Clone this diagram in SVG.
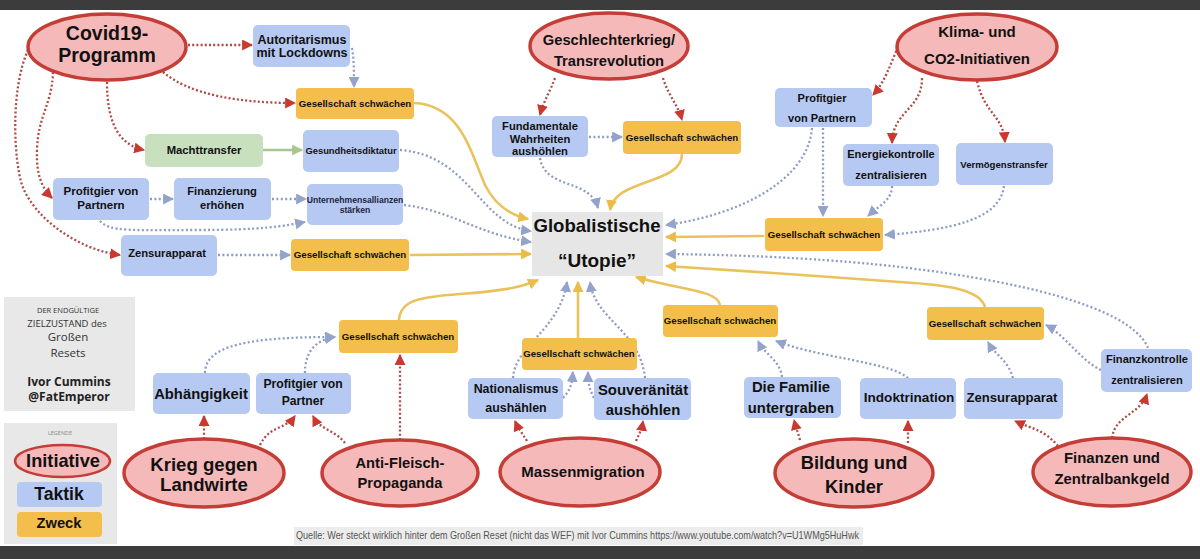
<svg xmlns="http://www.w3.org/2000/svg" width="1200" height="559" viewBox="0 0 1200 559">
<defs>
<style>
.t{font-family:"Liberation Sans",Arial,sans-serif;font-weight:bold;fill:#111;text-anchor:middle}
.o{font-family:"Open Sans","Liberation Sans",sans-serif;fill:#333;text-anchor:middle}
.ell{fill:#f6b9b9;stroke:#c43d36;stroke-width:3.5}
.tk{fill:#b6c9f2}
.zw{fill:#f3be4c}
.r{fill:none;stroke:#b04a44;stroke-width:2.3;stroke-dasharray:2 2.2}
.b{fill:none;stroke:#8c9cc2;stroke-width:2.3;stroke-dasharray:2 2.4}
.y{fill:none;stroke:#eac25c;stroke-width:2.6}
.g{fill:none;stroke:#a9c592;stroke-width:2.6}
</style>
<marker id="mr" viewBox="0 0 10 10" refX="9" refY="5" markerWidth="11" markerHeight="11" markerUnits="userSpaceOnUse" orient="auto"><path d="M0,0 L10,5 L0,10 z" fill="#c9392f"/></marker>
<marker id="mb" viewBox="0 0 10 10" refX="9" refY="5" markerWidth="11" markerHeight="11" markerUnits="userSpaceOnUse" orient="auto"><path d="M0,0 L10,5 L0,10 z" fill="#93a3cc"/></marker>
<marker id="my" viewBox="0 0 10 10" refX="9" refY="5" markerWidth="11" markerHeight="11" markerUnits="userSpaceOnUse" orient="auto"><path d="M0,0 L10,5 L0,10 z" fill="#eabc4a"/></marker>
<marker id="mg" viewBox="0 0 10 10" refX="9" refY="5" markerWidth="11" markerHeight="11" markerUnits="userSpaceOnUse" orient="auto"><path d="M0,0 L10,5 L0,10 z" fill="#a9c592"/></marker>
</defs>
<rect x="0" y="0" width="1200" height="559" fill="#ffffff"/>
<rect x="0" y="0" width="1200" height="10" fill="#3c3c3c"/>
<rect x="0" y="546" width="1200" height="13" fill="#3c3c3c"/>

<g id="connectors">
<g marker-end="url(#mr)">
<path class="r" d="M188,45 L252,45"/>
<path class="r" d="M163,72 C190,95 240,103 295,103"/>
<path class="r" d="M107,82 C107,125 120,145 144,150"/>
<path class="r" d="M53,72 C52,105 38,115 37,150 C36,175 42,188 52,198"/>
<path class="r" d="M28,50 C10,90 14,160 22,185 C35,220 80,250 120,255"/>
<path class="r" d="M555,78 C550,92 544,100 540,115"/>
<path class="r" d="M663,78 C668,95 678,105 682,120"/>
<path class="r" d="M898,47 C890,65 885,82 873,95"/>
<path class="r" d="M922,78 C922,110 893,110 892,143"/>
<path class="r" d="M977,81 C985,115 1003,115 1005,142"/>
<path class="r" d="M1112,438 C1115,415 1140,415 1147,394"/>
<path class="r" d="M1058,446 C1045,430 1030,428 1015,421"/>
<path class="r" d="M800,440 C798,432 796,428 794,420"/>
<path class="r" d="M908,443 L908,421"/>
<path class="r" d="M527,441 C522,433 518,428 515,421"/>
<path class="r" d="M636,441 C640,433 642,428 643,421"/>
<path class="r" d="M400,440 L400,355"/>
<path class="r" d="M345,443 C335,430 320,430 313,416"/>
<path class="r" d="M260,445 C270,425 285,430 295,416"/>
<path class="r" d="M204,439 L204,416"/>
</g>
<g marker-end="url(#mb)">
<path class="b" d="M352,48 C354,60 354,70 354,87"/>
<path class="b" d="M400,150 C470,155 480,225 531,231"/>
<path class="b" d="M150,199 L173,199"/>
<path class="b" d="M272,199 L306,199"/>
<path class="b" d="M100,221 C110,232 130,230 200,230 C260,230 285,226 305,222"/>
<path class="b" d="M404,205 C450,210 480,235 531,242"/>
<path class="b" d="M218,255 L290,255"/>
<path class="b" d="M589,137 L622,137"/>
<path class="b" d="M540,158 C545,190 590,178 598,208"/>
<path class="b" d="M823,128 L823,216"/>
<path class="b" d="M812,128 C808,180 740,215 666,225"/>
<path class="b" d="M892,186 C892,200 880,205 868,216"/>
<path class="b" d="M1004,186 C1000,220 950,230 885,235"/>
<path class="b" d="M1148,348 C1130,305 1010,280 900,267 C840,260 760,255 666,254"/>
<path class="b" d="M1101,370 C1080,360 1065,335 1046,325"/>
<path class="b" d="M1013,378 C1008,360 995,355 988,342"/>
<path class="b" d="M782,377 C780,360 765,355 758,341"/>
<path class="b" d="M908,378 C890,362 820,358 776,341"/>
<path class="b" d="M563,398 C570,390 572,385 573,372"/>
<path class="b" d="M594,398 C590,390 588,385 588,372"/>
<path class="b" d="M513,378 C515,345 560,330 567,282"/>
<path class="b" d="M645,378 C640,330 595,320 590,282"/>
<path class="b" d="M205,373 C205,345 250,337 335,337"/>
<path class="b" d="M305,373 C305,352 315,340 335,337"/>
</g>
<g marker-end="url(#my)">
<path class="y" d="M414,103 C460,105 470,150 485,185 C495,205 510,215 528,219"/>
<path class="y" d="M410,255 L531,254"/>
<path class="y" d="M682,154 C682,185 615,178 610,210"/>
<path class="y" d="M764,236 L666,237"/>
<path class="y" d="M985,307 C980,290 950,285 900,282 C850,278 700,268 666,266"/>
<path class="y" d="M720,305 C718,290 680,290 636,277"/>
<path class="y" d="M578,338 L578,282"/>
<path class="y" d="M399,320 C400,300 420,297 460,294 C500,291 520,288 538,280"/>
</g>
<path class="g" d="M263,150 L302,150" marker-end="url(#mg)"/>
</g>

<g id="covid"><ellipse class="ell" cx="107" cy="47" rx="79" ry="33"/><text class="t" x="107" y="40" font-size="19.5">Covid19-</text><text class="t" x="107" y="62" font-size="19.5">Programm</text></g>
<g id="geschlecht"><ellipse class="ell" cx="609" cy="46" rx="79" ry="33"/><text class="t" x="609" y="45" font-size="14.7">Geschlechterkrieg/</text><text class="t" x="609" y="66" font-size="14.7">Transrevolution</text></g>
<g id="klima"><ellipse class="ell" cx="977" cy="47" rx="80" ry="33"/><text class="t" x="977" y="37" font-size="15">Klima- und</text><text class="t" x="977" y="64" font-size="15">CO2-Initiativen</text></g>
<g id="krieg"><ellipse class="ell" cx="204" cy="473" rx="80" ry="34"/><text class="t" x="204" y="471" font-size="18.6">Krieg gegen</text><text class="t" x="204" y="491" font-size="18.6">Landwirte</text></g>
<g id="antifleisch"><ellipse class="ell" cx="400" cy="473" rx="78" ry="33"/><text class="t" x="400" y="468" font-size="14.7">Anti-Fleisch-</text><text class="t" x="400" y="488" font-size="14.7">Propaganda</text></g>
<g id="massenmigration"><ellipse class="ell" cx="580" cy="472" rx="80" ry="34"/><text class="t" x="583" y="477" font-size="15">Massenmigration</text></g>
<g id="bildung"><ellipse class="ell" cx="854" cy="473" rx="79" ry="34"/><text class="t" x="854" y="469" font-size="18.3">Bildung und</text><text class="t" x="854" y="493" font-size="18.3">Kinder</text></g>
<g id="finanzen"><ellipse class="ell" cx="1112" cy="472" rx="79" ry="34"/><text class="t" x="1112" y="463" font-size="14.9">Finanzen und</text><text class="t" x="1112" y="484" font-size="14.9">Zentralbankgeld</text></g>

<g id="utopie"><rect x="532" y="212" width="131" height="64" fill="#e6e6e6"/><text class="t" x="597" y="232" font-size="18.6">Globalistische</text><text class="t" x="597" y="267" font-size="19">“Utopie”</text></g>

<g id="autoritarismus"><rect class="tk" x="253" y="25" width="97" height="42" rx="5"/><text class="t" x="302" y="44" font-size="12.5">Autoritarismus</text><text class="t" x="302" y="57" font-size="12.5">mit Lockdowns</text></g>
<g id="gs1"><rect class="zw" x="296" y="88" width="118" height="31" rx="4"/><text class="t" x="355" y="107" font-size="9.7">Gesellschaft schwächen</text></g>
<g id="machttransfer"><rect x="145" y="134" width="118" height="33" rx="5" fill="#c9e0bf"/><text class="t" x="204" y="154" font-size="11.3">Machttransfer</text></g>
<g id="gesundheitsdiktatur"><rect class="tk" x="303" y="130" width="96" height="42" rx="5"/><text class="t" x="351" y="154" font-size="9.4">Gesundheitsdiktatur</text></g>
<g id="profitgier1"><rect class="tk" x="53" y="178" width="96" height="42" rx="5"/><text class="t" x="101" y="195" font-size="11.5">Profitgier von</text><text class="t" x="101" y="209" font-size="11.5">Partnern</text></g>
<g id="finanzierung"><rect class="tk" x="174" y="178" width="97" height="42" rx="5"/><text class="t" x="222" y="195" font-size="11.2">Finanzierung</text><text class="t" x="222" y="209" font-size="11.2">erhöhen</text></g>
<g id="unternehmen"><rect class="tk" x="307" y="184" width="96" height="41" rx="5"/><text class="t" x="355" y="203" font-size="8.6" style="fill:#1d2540">Unternehmensallianzen</text><text class="t" x="355" y="213" font-size="8.6" style="fill:#1d2540">stärken</text></g>
<g id="zensur1"><rect class="tk" x="121" y="235" width="96" height="41" rx="5"/><text class="t" x="167" y="257" font-size="11.2">Zensurapparat</text></g>
<g id="gs2"><rect class="zw" x="291" y="239" width="118" height="32" rx="4"/><text class="t" x="350" y="258" font-size="9.7">Gesellschaft schwächen</text></g>
<g id="fundamentale"><rect class="tk" x="492" y="116" width="96" height="41" rx="5"/><text class="t" x="540" y="130" font-size="11.2">Fundamentale</text><text class="t" x="540" y="143" font-size="11.2">Wahrheiten</text><text class="t" x="540" y="155" font-size="11.2">aushöhlen</text></g>
<g id="gs3"><rect class="zw" x="623" y="121" width="118" height="33" rx="4"/><text class="t" x="682" y="141" font-size="9.7">Gesellschaft schwächen</text></g>
<g id="profitgier2"><rect class="tk" x="775" y="88" width="97" height="39" rx="5"/><text class="t" x="822" y="102" font-size="11">Profitgier</text><text class="t" x="822" y="122" font-size="11">von Partnern</text></g>
<g id="energie"><rect class="tk" x="843" y="144" width="96" height="42" rx="5"/><text class="t" x="891" y="158" font-size="11.1">Energiekontrolle</text><text class="t" x="891" y="179" font-size="11.1">zentralisieren</text></g>
<g id="vermoegen"><rect class="tk" x="956" y="143" width="97" height="42" rx="5"/><text class="t" x="1004" y="168" font-size="9.6">Vermögenstransfer</text></g>
<g id="gs4"><rect class="zw" x="765" y="218" width="118" height="33" rx="4"/><text class="t" x="824" y="238" font-size="9.7">Gesellschaft schwächen</text></g>
<g id="gs5"><rect class="zw" x="927" y="307" width="117" height="33" rx="4"/><text class="t" x="985" y="327" font-size="9.7">Gesellschaft schwächen</text></g>
<g id="finanzkontrolle"><rect class="tk" x="1101" y="349" width="91" height="43" rx="5"/><text class="t" x="1147" y="363" font-size="11.1">Finanzkontrolle</text><text class="t" x="1147" y="384" font-size="11.1">zentralisieren</text></g>
<g id="gs6"><rect class="zw" x="663" y="305" width="115" height="32" rx="4"/><text class="t" x="720" y="324" font-size="9.7">Gesellschaft schwächen</text></g>
<g id="gs7"><rect class="zw" x="522" y="338" width="115" height="32" rx="4"/><text class="t" x="579" y="357" font-size="9.6">Gesellschaft schwächen</text></g>
<g id="gs8"><rect class="zw" x="339" y="320" width="119" height="33" rx="4"/><text class="t" x="398" y="340" font-size="9.7">Gesellschaft schwächen</text></g>
<g id="abhaengigkeit"><rect class="tk" x="153" y="373" width="97" height="41" rx="5"/><text class="t" x="201" y="399" font-size="14.8">Abhängigkeit</text></g>
<g id="profitgier3"><rect class="tk" x="256" y="373" width="95" height="41" rx="5"/><text class="t" x="303" y="388" font-size="12.2">Profitgier von</text><text class="t" x="303" y="405" font-size="12.2">Partner</text></g>
<g id="nationalismus"><rect class="tk" x="468" y="378" width="95" height="41" rx="5"/><text class="t" x="516" y="393" font-size="12.4">Nationalismus</text><text class="t" x="516" y="412" font-size="12.4">aushählen</text></g>
<g id="souveraenitaet"><rect class="tk" x="594" y="378" width="97" height="42" rx="5"/><text class="t" x="643" y="395" font-size="14.9">Souveränität</text><text class="t" x="643" y="415" font-size="14.9">aushöhlen</text></g>
<g id="familie"><rect class="tk" x="744" y="377" width="97" height="41" rx="5"/><text class="t" x="791" y="392" font-size="14.8">Die Familie</text><text class="t" x="791" y="413" font-size="14.8">untergraben</text></g>
<g id="indoktrination"><rect class="tk" x="860" y="378" width="96" height="41" rx="5"/><text class="t" x="909" y="402" font-size="13.6">Indoktrination</text></g>
<g id="zensur2"><rect class="tk" x="964" y="378" width="99" height="41" rx="5"/><text class="t" x="1012" y="402" font-size="13.1">Zensurapparat</text></g>

<g id="info">
<rect x="4" y="297" width="131" height="114" fill="#e8e8e8"/>
<text class="o" x="68" y="313" font-size="7.5">DER ENDGÜLTIGE</text>
<text class="o" x="67" y="327" font-size="9.5">ZIELZUSTAND des</text>
<text class="o" x="68" y="341" font-size="11.5">Großen</text>
<text class="o" x="68" y="357" font-size="11.5">Resets</text>
<text class="o" x="69" y="386" font-size="12" font-weight="bold" style="fill:#222">Ivor Cummins</text>
<text class="o" x="69" y="401" font-size="12" font-weight="bold" style="fill:#222">@FatEmperor</text>
</g>
<g id="legend">
<rect x="4" y="423" width="113" height="121" fill="#e8e8e8"/>
<text class="o" x="60" y="435" font-size="5.5" style="fill:#888">LEGENDE</text>
<ellipse cx="62.5" cy="461" rx="47.5" ry="16" fill="#f6b9b9" stroke="#c43d36" stroke-width="2.5"/>
<text class="t" x="63" y="467" font-size="18.2">Initiative</text>
<rect class="tk" x="17" y="482" width="85" height="25" rx="4"/>
<text class="t" x="59" y="500" font-size="17.6">Taktik</text>
<rect class="zw" x="17" y="512" width="85" height="25" rx="4"/>
<text class="t" x="59" y="528" font-size="14.7">Zweck</text>
</g>
<g id="source">
<rect x="294" y="527" width="569" height="18" fill="#ececec"/>
<text x="296" y="539" font-family="Liberation Sans Narrow,Liberation Sans,Arial,sans-serif" font-size="11" fill="#555" textLength="563" lengthAdjust="spacingAndGlyphs">Quelle: Wer steckt wirklich hinter dem Großen Reset (nicht das WEF) mit Ivor Cummins https://www.youtube.com/watch?v=U1WMg5HuHwk</text>
</g>
</svg>
